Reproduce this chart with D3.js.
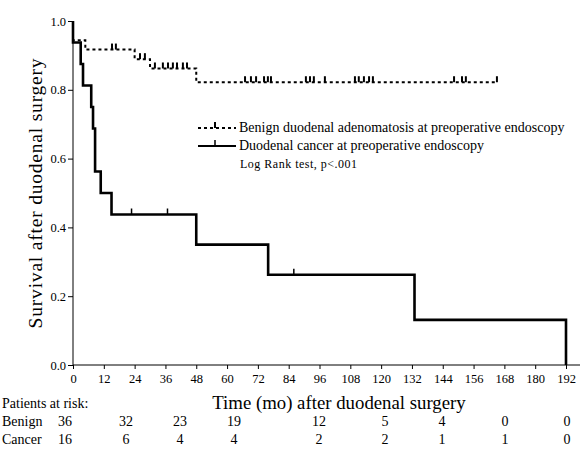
<!DOCTYPE html>
<html>
<head>
<meta charset="utf-8">
<script src="https://cdn.jsdelivr.net/npm/d3@7/dist/d3.min.js"></script>
<style>
  html, body { margin: 0; padding: 0; background: #fff; }
  svg { display: block; font-family: "Liberation Serif", "Times New Roman", serif; }
</style>
</head>
<body>
<svg id="chart" width="584" height="452"></svg>
<script>
// Kaplan-Meier estimates: event times (months) and survival after each event
const benignTimes = [0, 4.8, 24, 30, 48];
const benignSurv = [0.944, 0.917, 0.889, 0.862, 0.822];
const benignLastFollowUp = 165.1;
const benignCensored = [15.2, 16.7, 26.1, 28.0, 31.9, 35.0, 37.0, 38.9, 40.5, 42.8, 44.4,
  67.0, 69.3, 71.3, 74.4, 75.9, 77.1, 90.7, 92.3, 93.8, 98.1,
  109.8, 111.3, 113.3, 115.3, 116.8, 148.4, 151.5, 153.0, 165.1];

const cancerTimes = [0, 3.0, 3.9, 7.1, 7.8, 8.6, 10.8, 15, 48, 76, 133, 192];
const cancerSurv = [0.9375, 0.875, 0.8125, 0.75, 0.6875, 0.5625, 0.5, 0.4375, 0.35, 0.2625, 0.13125, 0];
const cancerCensored = [22.8, 36.8, 86];

// Axis ticks
const xTicks = d3.range(0, 193, 12);
const yTicks = [0, 0.2, 0.4, 0.6, 0.8, 1.0];

// Numbers at risk, every 24 months
const riskBenign = [36, 32, 23, 19, 12, 5, 4, 0, 0];
const riskCancer = [16, 6, 4, 4, 2, 2, 1, 1, 0];
// horizontal centres of the at-risk columns (layout)
const riskColumnX = [65, 126, 180, 234, 319, 385, 442, 505, 567];

const legendLabels = [
  "Benign duodenal adenomatosis at preoperative endoscopy",
  "Duodenal cancer at preoperative endoscopy"
];
const testLabel = "Log Rank test, p<.001";

const svg = d3.select("#chart");
const x = d3.scaleLinear().domain([0, 192]).range([73, 566]);
const y = d3.scaleLinear().domain([0, 1]).range([365, 21]);

// Axes
const yAxis = d3.axisLeft(y).tickValues(yTicks).tickFormat(d3.format(".1f")).tickSize(5).tickPadding(2);
const gy = svg.append("g").attr("transform", `translate(${x(0)},0)`).call(yAxis);
gy.select(".domain").attr("d", `M0,${y(1)}V${y(0)}`);

const xAxis = d3.axisBottom(x).tickValues(xTicks).tickFormat(d3.format("d")).tickSize(4).tickPadding(5);
const gx = svg.append("g").attr("transform", `translate(0,${y(0)})`).call(xAxis);
gx.select(".domain").attr("d", `M${x(0)},0H580`);

svg.selectAll(".tick text").attr("font-size", 12.5).attr("fill", "#000")
  .attr("font-family", "Liberation Serif, serif");
svg.selectAll(".domain, .tick line").attr("stroke", "#000").attr("stroke-width", 1);

// Axis titles
svg.append("text")
  .attr("transform", `translate(42,${(y(0) + y(1)) / 2}) rotate(-90)`)
  .attr("text-anchor", "middle")
  .attr("font-size", 19.5)
  .attr("letter-spacing", 0.8)
  .text("Survival after duodenal surgery");

svg.append("text")
  .attr("x", 339).attr("y", 409)
  .attr("text-anchor", "middle")
  .attr("font-size", 18.8)
  .text("Time (mo) after duodenal surgery");

// Survival curves
function stepPoints(times, surv, endTime) {
  const pts = [[0, 1]];
  times.forEach((t, i) => pts.push([t, surv[i]]));
  if (endTime !== undefined) pts.push([endTime, surv[surv.length - 1]]);
  return pts;
}
function survAt(times, surv, t) {
  let s = 1;
  times.forEach((tt, i) => { if (tt <= t) s = surv[i]; });
  return s;
}
const line = d3.line().x(d => x(d[0])).y(d => y(d[1])).curve(d3.curveStepAfter);

svg.append("path")
  .datum(stepPoints(benignTimes, benignSurv, benignLastFollowUp))
  .attr("d", line)
  .attr("fill", "none").attr("stroke", "#000")
  .attr("stroke-width", 2).attr("stroke-dasharray", "3,3");

svg.append("path")
  .datum(stepPoints(cancerTimes, cancerSurv))
  .attr("d", line)
  .attr("fill", "none").attr("stroke", "#000")
  .attr("stroke-width", 2.6);

// Censor marks
svg.append("g").selectAll("line")
  .data(benignCensored)
  .join("line")
  .attr("x1", d => x(d)).attr("x2", d => x(d))
  .attr("y1", d => y(survAt(benignTimes, benignSurv, d)))
  .attr("y2", d => y(survAt(benignTimes, benignSurv, d)) - 6)
  .attr("stroke", "#000").attr("stroke-width", 2);

svg.append("g").selectAll("line")
  .data(cancerCensored)
  .join("line")
  .attr("x1", d => x(d)).attr("x2", d => x(d))
  .attr("y1", d => y(survAt(cancerTimes, cancerSurv, d)))
  .attr("y2", d => y(survAt(cancerTimes, cancerSurv, d)) - 6)
  .attr("stroke", "#000").attr("stroke-width", 1.5);

// Legend
const lg = svg.append("g");
const lx0 = 198, lx1 = 236;
const ly = [128, 146];
lg.append("line").attr("x1", lx0).attr("x2", lx1).attr("y1", ly[0]).attr("y2", ly[0])
  .attr("stroke", "#000").attr("stroke-width", 2).attr("stroke-dasharray", "3,3");
lg.append("line").attr("x1", 215).attr("x2", 215).attr("y1", ly[0]).attr("y2", ly[0] - 6)
  .attr("stroke", "#000").attr("stroke-width", 2);
lg.append("line").attr("x1", lx0).attr("x2", lx1).attr("y1", ly[1]).attr("y2", ly[1])
  .attr("stroke", "#000").attr("stroke-width", 2.2);
lg.append("line").attr("x1", 215).attr("x2", 215).attr("y1", ly[1]).attr("y2", ly[1] - 6)
  .attr("stroke", "#000").attr("stroke-width", 1.5);
lg.selectAll("text.lab").data(legendLabels).join("text")
  .attr("class", "lab")
  .attr("x", 239).attr("y", (d, i) => ly[i] + 4)
  .attr("font-size", 14)
  .text(d => d);
lg.append("text").attr("x", 240).attr("y", 168).attr("font-size", 12)
  .attr("letter-spacing", 0.5).text(testLabel);

// Numbers at risk
const rt = svg.append("g").attr("font-size", 14);
rt.append("text").attr("x", 2).attr("y", 408).text("Patients at risk:");
rt.append("text").attr("x", 2).attr("y", 426).text("Benign");
rt.append("text").attr("x", 2).attr("y", 444).text("Cancer");
rt.selectAll("text.rb").data(riskBenign).join("text").attr("class", "rb")
  .attr("x", (d, i) => riskColumnX[i]).attr("y", 426).attr("text-anchor", "middle").text(d => d);
rt.selectAll("text.rc").data(riskCancer).join("text").attr("class", "rc")
  .attr("x", (d, i) => riskColumnX[i]).attr("y", 444).attr("text-anchor", "middle").text(d => d);
</script>
</body>
</html>
